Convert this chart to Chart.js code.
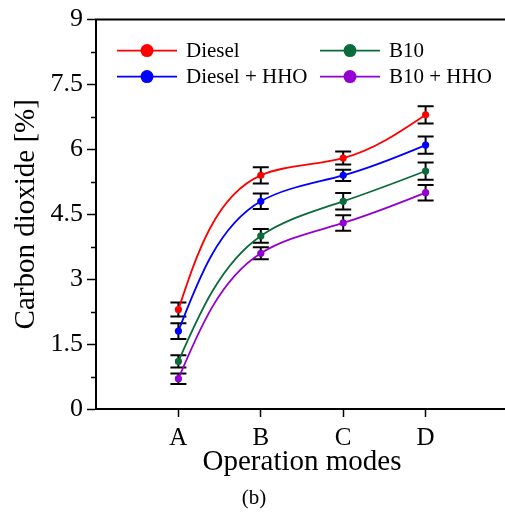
<!DOCTYPE html>
<html><head><meta charset="utf-8">
<script src="https://cdn.jsdelivr.net/npm/chart.js@4.4.1/dist/chart.umd.min.js"></script>
<style>html,body{margin:0;padding:0;overflow:hidden;background:#fff}#wrap{width:512px;height:516px}</style>
</head><body><div id="wrap"><canvas id="c" width="512" height="516"></canvas></div>
<script>
const categories = ['A', 'B', 'C', 'D'];
const seriesNames = ['Diesel', 'Diesel + HHO', 'B10', 'B10 + HHO'];
const seriesColors = ['#ff0000', '#0000ff', '#0b6b3a', '#9400d3'];
const diesel      = [2.3, 5.4, 5.8, 6.8];
const dieselHHO   = [1.8, 4.8, 5.4, 6.1];
const b10         = [1.1, 4.0, 4.8, 5.5];
const b10HHO      = [0.7, 3.6, 4.3, 5.0];
const dieselErr    = [0.16, 0.19, 0.15, 0.20];
const dieselHHOErr = [0.18, 0.18, 0.13, 0.20];
const b10Err       = [0.14, 0.16, 0.19, 0.20];
const b10HHOErr    = [0.12, 0.14, 0.18, 0.18];
const yMin = 0, yMax = 9, yStep = 1.5;
const xTitle = 'Operation modes';
const yTitle = 'Carbon dioxide [%]';
const subTitle = '(b)';

const FONT = "'Liberation Serif', 'Times New Roman', serif";
const values = [diesel, dieselHHO, b10, b10HHO];
const errors = [dieselErr, dieselHHOErr, b10Err, b10HHOErr];

const datasets = values.map((vals, k) => ({
  label: seriesNames[k],
  data: vals.map((v, i) => ({x: i + 1, y: v})),
  errors: errors[k],
  borderColor: seriesColors[k],
  backgroundColor: seriesColors[k],
  borderWidth: 1.8,
  pointRadius: 3.6,
  pointBorderWidth: 0,
  pointHoverRadius: 3.6,
  tension: 0.4,
  fill: false
}));

// natural cubic spline: end derivatives of each segment for parameter ts and values vs
function splineDerivs(ts, vs) {
  const n = ts.length, h = [], M = new Array(n).fill(0);
  for (let i = 0; i < n - 1; i++) h.push(ts[i + 1] - ts[i]);
  if (n > 2) {
    const a = [], b = [], c = [], d = [];
    for (let i = 1; i < n - 1; i++) {
      a.push(h[i - 1]); b.push(2 * (h[i - 1] + h[i])); c.push(h[i]);
      d.push(6 * ((vs[i + 1] - vs[i]) / h[i] - (vs[i] - vs[i - 1]) / h[i - 1]));
    }
    const m = b.length;
    for (let i = 1; i < m; i++) { const w = a[i] / b[i - 1]; b[i] -= w * c[i - 1]; d[i] -= w * d[i - 1]; }
    const sol = new Array(m);
    sol[m - 1] = d[m - 1] / b[m - 1];
    for (let i = m - 2; i >= 0; i--) sol[i] = (d[i] - c[i] * sol[i + 1]) / b[i];
    for (let i = 0; i < m; i++) M[i + 1] = sol[i];
  }
  const out = [];
  for (let i = 0; i < n - 1; i++) {
    const s = (vs[i + 1] - vs[i]) / h[i];
    out.push({h: h[i], d0: s - h[i] * (2 * M[i] + M[i + 1]) / 6, d1: s + h[i] * (M[i] + 2 * M[i + 1]) / 6});
  }
  return out;
}

// parametric (chord-length, screen space) natural spline through the library's point elements
const smoothLines = {
  id: 'smoothLines',
  beforeDatasetsDraw(chart) {
    chart.data.datasets.forEach((ds, k) => {
      const meta = chart.getDatasetMeta(k);
      meta.dataset.updateControlPoints(chart.chartArea, 'x');
      const pts = meta.data;
      const xs = pts.map(p => p.x), ys = pts.map(p => p.y);
      const ts = [0];
      for (let i = 1; i < xs.length; i++) ts.push(ts[i - 1] + Math.hypot(xs[i] - xs[i - 1], ys[i] - ys[i - 1]));
      const sx = splineDerivs(ts, xs), sy = splineDerivs(ts, ys);
      for (let i = 0; i < pts.length - 1; i++) {
        const h3 = sx[i].h / 3;
        pts[i].cp2x = xs[i] + h3 * sx[i].d0;
        pts[i].cp2y = ys[i] + h3 * sy[i].d0;
        pts[i + 1].cp1x = xs[i + 1] - h3 * sx[i].d1;
        pts[i + 1].cp1y = ys[i + 1] - h3 * sy[i].d1;
      }
    });
  }
};

const errorBars = {
  id: 'errorBars',
  beforeDatasetsDraw(chart) {
    const {ctx, scales: {x, y}} = chart;
    ctx.save();
    ctx.strokeStyle = '#000';
    ctx.lineWidth = 2;
    chart.data.datasets.forEach(ds => {
      ds.data.forEach((p, i) => {
        const e = ds.errors[i];
        const px = x.getPixelForValue(p.x);
        const yt = y.getPixelForValue(p.y + e);
        const yb = y.getPixelForValue(p.y - e);
        ctx.beginPath();
        ctx.moveTo(px, yt); ctx.lineTo(px, yb);
        ctx.moveTo(px - 8, yt); ctx.lineTo(px + 8, yt);
        ctx.moveTo(px - 8, yb); ctx.lineTo(px + 8, yb);
        ctx.stroke();
      });
    });
    ctx.restore();
  }
};

const frame = {
  id: 'frame',
  afterDraw(chart) {
    const {ctx, chartArea: a, scales: {y}} = chart;
    ctx.save();
    ctx.strokeStyle = '#000';
    ctx.lineWidth = 2;
    ctx.beginPath();
    ctx.moveTo(a.left - 1, a.top); ctx.lineTo(a.right, a.top); ctx.lineTo(a.right, a.bottom);
    ctx.stroke();
    // minor ticks
    ctx.lineWidth = 1.5;
    ctx.beginPath();
    for (let v = yMin + yStep / 2; v < yMax; v += yStep) {
      const py = Math.round(y.getPixelForValue(v)) + 0.5;
      ctx.moveTo(a.left - 5, py); ctx.lineTo(a.left, py);
    }
    ctx.stroke();
    // legend
    ctx.font = '21px ' + FONT;
    ctx.textBaseline = 'middle';
    ctx.textAlign = 'left';
    const cols = [a.left + 21, a.left + 224];
    const rows = [a.top + 31, a.top + 57];
    chart.data.datasets.forEach((ds, k) => {
      const cx = cols[Math.floor(k / 2)];
      const cy = rows[k % 2];
      ctx.strokeStyle = ds.borderColor;
      ctx.lineWidth = 1.8;
      ctx.beginPath(); ctx.moveTo(cx, cy); ctx.lineTo(cx + 60, cy); ctx.stroke();
      ctx.fillStyle = ds.backgroundColor;
      ctx.beginPath(); ctx.arc(cx + 30, cy, 6.5, 0, Math.PI * 2); ctx.fill();
      ctx.fillStyle = '#000';
      ctx.fillText(ds.label, cx + 69, cy + 1);
    });
    ctx.restore();
  }
};

new Chart(document.getElementById('c'), {
  type: 'line',
  data: {datasets},
  options: {
    responsive: false,
    animation: false,
    devicePixelRatio: 1,
    layout: {padding: {left: 0, top: 18, right: 4, bottom: 0}},
    plugins: {
      legend: {display: false},
      tooltip: {enabled: false},
      title: {
        display: true, position: 'bottom', text: subTitle, color: '#000',
        font: {family: FONT, size: 21, weight: 'normal', lineHeight: 1.2},
        padding: {top: 0, bottom: 5}
      }
    },
    scales: {
      x: {
        type: 'linear', min: 0, max: categories.length + 1,
        afterBuildTicks: s => { s.ticks = categories.map((c, i) => ({value: i + 1})); },
        afterFit: s => { s.height = 76.8; },
        ticks: {
          callback: v => categories[v - 1] || '',
          color: '#000', font: {family: FONT, size: 25}, padding: 6, maxRotation: 0, autoSkip: false
        },
        grid: {drawOnChartArea: false, drawTicks: true, tickLength: 8, tickWidth: 1.5, tickColor: '#000'},
        border: {display: true, color: '#000', width: 2},
        title: {display: true, text: xTitle, color: '#000', font: {family: FONT, size: 29, lineHeight: 1.2}, padding: {top: 0, bottom: 6}}
      },
      y: {
        min: yMin, max: yMax,
        afterFit: s => { s.width = 96; },
        ticks: {stepSize: yStep, color: '#000', font: {family: FONT, size: 26}, padding: 4},
        grid: {drawOnChartArea: false, drawTicks: true, tickLength: 9, tickWidth: 1.5, tickColor: '#000'},
        border: {display: true, color: '#000', width: 2},
        title: {display: true, text: yTitle, color: '#000', font: {family: FONT, size: 29, lineHeight: 1.2}, padding: {top: 9, bottom: 0}}
      }
    }
  },
  plugins: [smoothLines, errorBars, frame]
});
</script></body></html>
